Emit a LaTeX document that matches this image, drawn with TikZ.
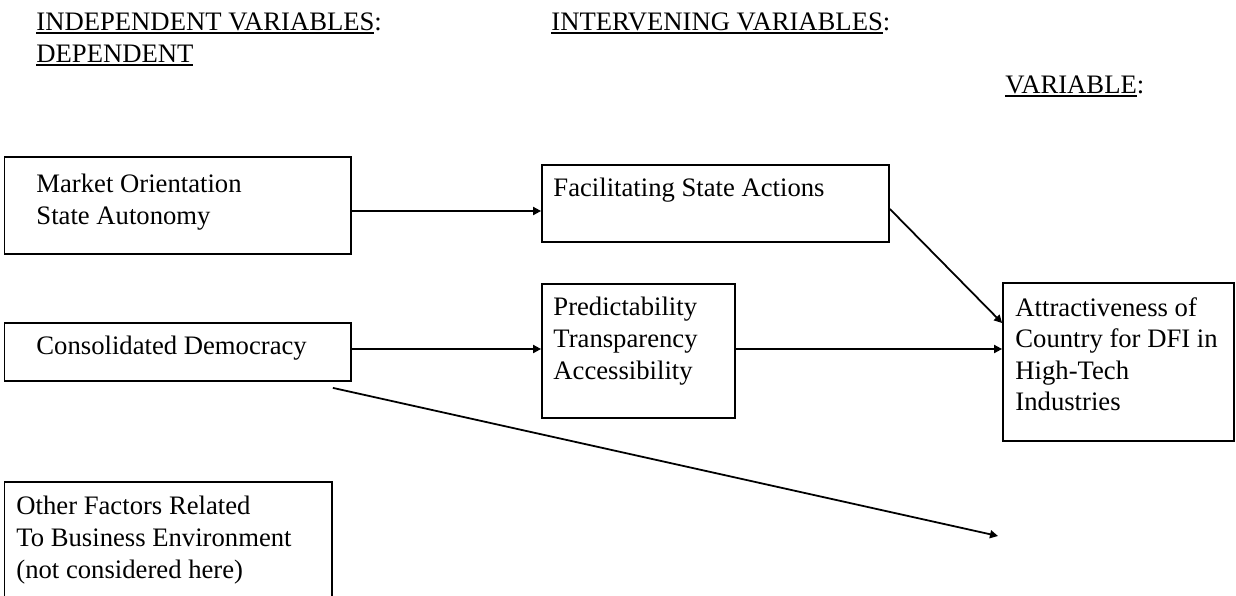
\documentclass[tikz,border=0pt]{standalone}
\usepackage{fontspec}
\setmainfont{Liberation Serif}
\usetikzlibrary{arrows.meta,fit}
\newcommand\ulhead[1]{\setbox0\hbox{#1}\rlap{\vrule height -0.9pt depth 1.8pt width \wd0}\box0}
\begin{document}
\begin{tikzpicture}
  [x=0.45pt,y=-0.45pt,font=\fontsize{12}{14.2}\selectfont,
   box/.style={draw,line width=0.8pt,inner sep=0pt},
   txt/.style={inner sep=0pt,align=left,anchor=north west},
   head/.style={inner sep=0pt,anchor=base west},
   arr/.style={line width=0.8pt,-{Triangle[length=3.6pt,width=3.6pt]}}]
  \useasboundingbox (0,0) rectangle (1236,595);
  \clip (0,0) rectangle (1236,595);

  % headings
  \node[head] (indep) at (36,30)   {\ulhead{INDEPENDENT VARIABLES}:};
  \node[head] (depnd) at (36,62)   {\ulhead{DEPENDENT}};
  \node[head] (inter) at (551,30)  {\ulhead{INTERVENING VARIABLES}:};
  \node[head] (varbl) at (1005,93) {\ulhead{VARIABLE}:};

  % boxes
  \node[box, fit={(4.6,157) (351,254)}] (mkt) {};
  \node[box, fit={(4.6,323) (351,381)}] (dem) {};
  \node[box, fit={(4.6,482) (332,640)}] (oth) {};
  \node[box, fit={(542,165) (889,242)}] (fac) {};
  \node[box, fit={(542,284) (735,418)}] (prd) {};
  \node[box, fit={(1003,283) (1234,441)}] (att) {};

  \node[txt] (mkttxt) at (36,174)   {Market Orientation\\State Autonomy};
  \node[txt] (demtxt) at (36,336)   {Consolidated Democracy};
  \node[txt] (othtxt) at (16,496)   {Other Factors Related\\To Business Environment\\(not considered here)};
  \node[txt] (factxt) at (553,178)  {Facilitating State Actions};
  \node[txt] (prdtxt) at (553,297)  {Predictability\\Transparency\\Accessibility};
  \node[txt] (atttxt) at (1015,297) {Attractiveness of\\Country for DFI in\\High-Tech\\Industries};

  \coordinate (dfiend) at (998,536);

  \foreach \from/\to/\y in {mkt/fac/211,dem/prd/349,prd/att/349}
    \draw[arr] (\from.east |- 0,\y) -- (\to.west |- 0,\y);
  \draw[arr] (fac.east |- 0,209) -- (att.west |- 0,323);
  \draw[arr] ([shift={(-19,6)}]dem.south east) -- (dfiend);
\end{tikzpicture}
\end{document}
